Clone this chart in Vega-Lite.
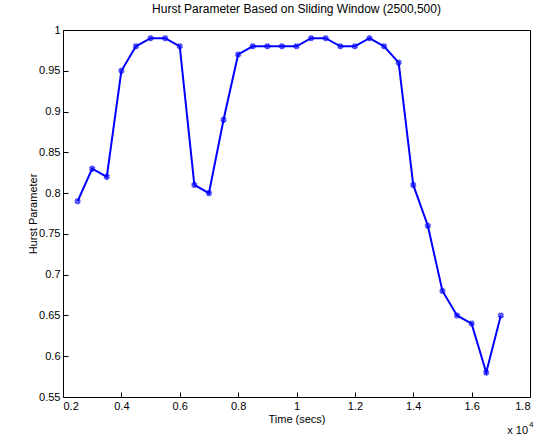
{
"$schema":"https://vega.github.io/schema/vega-lite/v6.json",
"width":467,"height":367,
"autosize":{"type":"none"},
"padding":{"left":63,"top":30,"right":10,"bottom":45},
"background":"white",
"config":{"font":"Liberation Sans","view":{"stroke":"black","strokeWidth":1},
"axis":{"grid":false,"domain":false,"tickSize":-5,"tickColor":"black","labelColor":"black","labelFontSize":11,"titleFontSize":11,"titleFontWeight":"normal","titleColor":"black","labelPadding":8}},
"title":{"text":"Hurst Parameter Based on Sliding Window (2500,500)","fontSize":12,"fontWeight":"normal","offset":8},
"data":{"values":[
{"t":0.25,"h":0.79},{"t":0.3,"h":0.83},{"t":0.35,"h":0.82},{"t":0.4,"h":0.95},{"t":0.45,"h":0.98},{"t":0.5,"h":0.99},{"t":0.55,"h":0.99},{"t":0.6,"h":0.98},{"t":0.65,"h":0.81},{"t":0.7,"h":0.80},{"t":0.75,"h":0.89},{"t":0.8,"h":0.97},{"t":0.85,"h":0.98},{"t":0.9,"h":0.98},{"t":0.95,"h":0.98},{"t":1.0,"h":0.98},{"t":1.05,"h":0.99},{"t":1.1,"h":0.99},{"t":1.15,"h":0.98},{"t":1.2,"h":0.98},{"t":1.25,"h":0.99},{"t":1.3,"h":0.98},{"t":1.35,"h":0.96},{"t":1.4,"h":0.81},{"t":1.45,"h":0.76},{"t":1.5,"h":0.68},{"t":1.55,"h":0.65},{"t":1.6,"h":0.64},{"t":1.65,"h":0.58},{"t":1.7,"h":0.65}
]},
"layer":[
{"mark":{"type":"line","color":"#0000ff","strokeWidth":2},
"encoding":{"x":{"field":"t","type":"quantitative","scale":{"domain":[0.2,1.8],"nice":false},"axis":{"values":[0.2,0.4,0.6,0.8,1,1.2,1.4,1.6,1.8],"format":"~g","title":"Time  (secs)","titlePadding":2}},
"y":{"field":"h","type":"quantitative","scale":{"domain":[0.55,1],"nice":false,"zero":false},"axis":{"values":[0.55,0.6,0.65,0.7,0.75,0.8,0.85,0.9,0.95,1],"format":"~g","title":"Hurst Parameter","titlePadding":0}}}},
{"mark":{"type":"point","shape":"cross","angle":45,"color":"#0000ff","size":20,"strokeWidth":1.5},
"encoding":{"x":{"field":"t","type":"quantitative"},"y":{"field":"h","type":"quantitative"}}},
{"data":{"values":[{"x":1.8,"y":0.55}]},
"mark":{"type":"text","text":"x 10","align":"right","dx":-2,"dy":34,"fontSize":11,"font":"Liberation Sans"},
"encoding":{"x":{"field":"x","type":"quantitative"},"y":{"field":"y","type":"quantitative"}}},
{"data":{"values":[{"x":1.8,"y":0.55}]},
"mark":{"type":"text","text":"4","align":"left","dx":-1,"dy":28,"fontSize":8,"font":"Liberation Sans"},
"encoding":{"x":{"field":"x","type":"quantitative"},"y":{"field":"y","type":"quantitative"}}}
]}
